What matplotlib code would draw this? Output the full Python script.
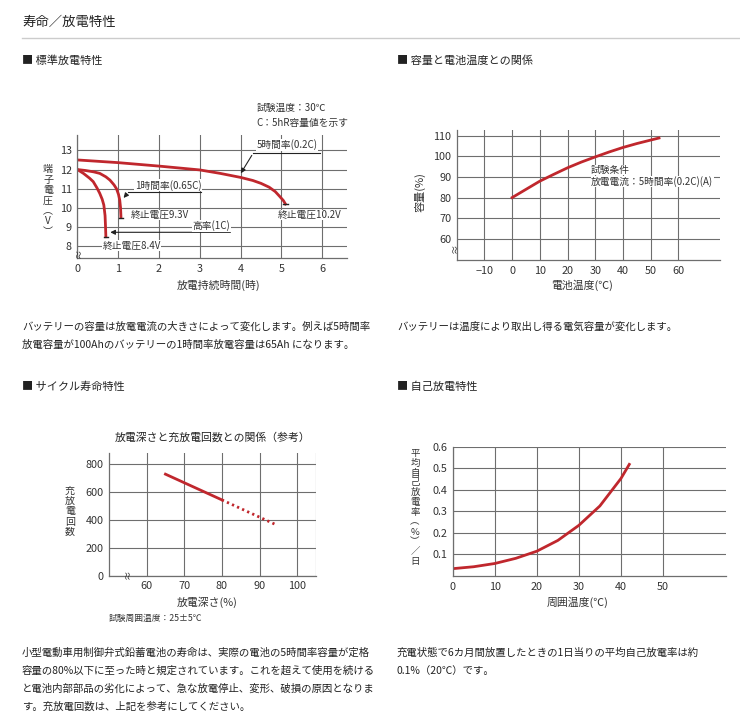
import matplotlib
matplotlib.use("Agg")
import matplotlib.pyplot as plt

plt.rcParams['font.family'] = ['Noto Sans CJK JP', 'DejaVu Sans']

# --- data ---
# standard discharge (hours, volts)
h5_t = [0, 0.5, 1, 1.5, 2, 2.5, 3, 3.5, 4, 4.3, 4.5, 4.7, 4.85, 4.95, 5.05, 5.1]
h5_v = [12.5, 12.43, 12.36, 12.27, 12.18, 12.08, 11.98, 11.8, 11.59, 11.43, 11.28, 11.08, 10.85, 10.62, 10.38, 10.2]
h1_t = [0, 0.2, 0.4, 0.55, 0.7, 0.8, 0.9, 0.96, 1.01, 1.04, 1.06, 1.07]
h1_v = [12.0, 11.95, 11.88, 11.8, 11.62, 11.45, 11.2, 11.0, 10.7, 10.4, 10.0, 9.5]
c1_t = [0, 0.15, 0.3, 0.39, 0.48, 0.55, 0.61, 0.65, 0.68, 0.69, 0.7]
c1_v = [12.0, 11.8, 11.55, 11.37, 11.05, 10.76, 10.45, 10.15, 9.6, 9.1, 8.5]

# capacity vs battery temperature
cap_temp = [0, 5, 10, 15, 20, 25, 30, 35, 40, 45, 50, 53]
cap_pct = [80, 84, 88, 91.3, 94.5, 97.3, 99.8, 102.2, 104.4, 106.3, 108, 109]

# cycle life vs depth of discharge
dod_solid = [65, 80]
cyc_solid = [730, 545]
dod_dot = [80, 94.5]
cyc_dot = [545, 365]

# self discharge vs ambient temperature
sd_temp = [0, 5, 10, 15, 20, 25, 30, 35, 40, 42]
sd_rate = [0.034, 0.043, 0.058, 0.082, 0.115, 0.165, 0.235, 0.325, 0.452, 0.518]

W, H = 740, 726
RED = '#c0272d'
GRID = '#6e6e6e'
TXT = '#333333'

fig = plt.figure(figsize=(W / 100, H / 100), dpi=100)


def px(x, y):
    return x / W, 1 - y / H


def make_ax(l, t, r, b):
    ax = fig.add_axes([l / W, 1 - b / H, (r - l) / W, (b - t) / H])
    for s in ['top', 'right']:
        ax.spines[s].set_visible(False)
    for s in ['left', 'bottom']:
        ax.spines[s].set_color(GRID)
        ax.spines[s].set_linewidth(0.9)
    ax.tick_params(length=0, labelsize=7.8, labelcolor=TXT, pad=4)
    return ax


def stacked(x, y0, chars, pitch, size=7):
    # vertical Japanese label, one glyph per row
    for i, c in enumerate(chars):
        fig.text(*px(x, y0 + i * pitch), c, ha='center', va='center',
                 fontsize=size, color=TXT)


# header
fig.text(*px(22, 22), "寿命／放電特性", fontsize=9.6, va='center', color='#222222')
fig.add_artist(plt.Line2D([22 / W, 1], [1 - 38 / H] * 2, color='#cccccc', lw=1))
fig.text(*px(22, 61), "■ 標準放電特性", fontsize=8, va='center', color='#222222')
fig.text(*px(397, 61), "■ 容量と電池温度との関係", fontsize=8, va='center', color='#222222')
fig.text(*px(22, 387), "■ サイクル寿命特性", fontsize=8, va='center', color='#222222')
fig.text(*px(397, 387), "■ 自己放電特性", fontsize=8, va='center', color='#222222')

body = dict(fontsize=7.5, va='center', color='#222222')
fig.text(*px(22, 327), "バッテリーの容量は放電電流の大きさによって変化します。例えば5時間率", **body)
fig.text(*px(22, 345), "放電容量が100Ahのバッテリーの1時間率放電容量は65Ah になります。", **body)
fig.text(*px(397, 327), "バッテリーは温度により取出し得る電気容量が変化します。", **body)
lines3 = ["小型電動車用制御弁式鉛蓄電池の寿命は、実際の電池の5時間率容量が定格",
          "容量の80%以下に至った時と規定されています。これを超えて使用を続ける",
          "と電池内部部品の劣化によって、急な放電停止、変形、破損の原因となりま",
          "す。充放電回数は、上記を参考にしてください。"]
for i, s in enumerate(lines3):
    fig.text(*px(22, 653 + i * 18), s, **body)
fig.text(*px(397, 653), "充電状態で6カ月間放置したときの1日当りの平均自己放電率は約", **body)
fig.text(*px(397, 671), "0.1%（20℃）です。", **body)

# --- chart 1: standard discharge ---
ax1 = make_ax(77.3, 135, 346.7, 258.3)
ax1.set_xlim(0, 6.6)
ax1.set_ylim(7.375, 13.8)
ax1.set_xticks(range(0, 7))
ax1.set_yticks(range(8, 14))
ax1.grid(True, color=GRID, lw=0.8)
ax1.set_axisbelow(True)
ax1.plot(h5_t, h5_v, color=RED, lw=2)
ax1.plot(h1_t, h1_v, color=RED, lw=2)
ax1.plot(c1_t, c1_v, color=RED, lw=2)
for t, v in [(h5_t[-1], h5_v[-1]), (h1_t[-1], h1_v[-1]), (c1_t[-1], c1_v[-1])]:
    ax1.plot([t - 0.05, t + 0.05], [v, v], color='#222222', lw=1)
lead = dict(color='#222222', lw=0.8)
ax1.plot([4.31, 5.94], [12.86, 12.86], **lead)
ax1.annotate("", xy=(3.97, 11.68), xytext=(4.31, 12.86),
             arrowprops=dict(arrowstyle='-|>', color='#222222', lw=0.8, mutation_scale=7))
ax1.plot([1.25, 3.04], [10.81, 10.81], **lead)
ax1.annotate("", xy=(1.09, 10.41), xytext=(1.25, 10.81),
             arrowprops=dict(arrowstyle='-|>', color='#222222', lw=0.8, mutation_scale=7))
ax1.annotate("", xy=(0.74, 8.73), xytext=(3.82, 8.73),
             arrowprops=dict(arrowstyle='-|>', color='#222222', lw=0.8, mutation_scale=7))
note = dict(fontsize=7, color=TXT, va='center',
            bbox=dict(facecolor='white', edgecolor='none', pad=0.3))
ax1.text(4.39, 13.28, "5時間率(0.2C)", **note)
ax1.text(1.41, 11.19, "1時間率(0.65C)", **note)
ax1.text(1.31, 9.63, "終止電圧9.3V", **note)
ax1.text(4.9, 9.63, "終止電圧10.2V", **note)
ax1.text(2.82, 9.06, "高率(1C)", **note)
ax1.text(0.62, 8.03, "終止電圧8.4V", **note)
fig.text(*px(256.7, 108), "試験温度：30℃", fontsize=7, color=TXT, va='center')
fig.text(*px(256.7, 123), "C：5hR容量値を示す", fontsize=7, color=TXT, va='center')
fig.text(*px(79, 253), "≈", fontsize=7, color=TXT, ha='center', va='center', rotation=90)
stacked(48, 169, ["端", "子", "電", "圧", "︵", "V", "︶"], 10.5, size=7.2)
fig.text(*px(219, 285), "放電持続時間(時)", fontsize=7.8, color=TXT, ha='center', va='center')

# --- chart 2: capacity vs temperature ---
ax2 = make_ax(456.7, 130, 720, 260)
ax2.set_xlim(-20, 75)
ax2.set_ylim(49.6, 112.9)
ax2.set_xticks(range(-10, 70, 10))
ax2.set_yticks(range(60, 120, 10))
ax2.grid(True, color=GRID, lw=0.8)
ax2.set_axisbelow(True)
ax2.plot(cap_temp, cap_pct, color=RED, lw=2)
ax2.text(28.5, 93.4, "試験条件", **note)
ax2.text(28.5, 87.8, "放電電流：5時間率(0.2C)(A)", **note)
fig.text(*px(455, 248), "≈", fontsize=7, color=TXT, ha='center', va='center', rotation=90)
fig.text(*px(420, 192), "容量(%)", fontsize=8, color=TXT, ha='center', va='center', rotation=90)
fig.text(*px(582, 285), "電池温度(℃)", fontsize=7.8, color=TXT, ha='center', va='center')

# --- chart 3: cycle life ---
ax3 = make_ax(109, 453.3, 316, 575.7)
ax3.set_xlim(50, 105)
ax3.set_ylim(0, 880)
ax3.set_xticks(range(60, 110, 10))
ax3.set_yticks(range(0, 1000, 200))
ax3.grid(True, color=GRID, lw=0.8)
ax3.axvline(105, color=GRID, lw=0.8)
ax3.set_axisbelow(True)
ax3.plot(dod_solid, cyc_solid, color=RED, lw=2)
ax3.plot(dod_dot, cyc_dot, color=RED, lw=2, linestyle=(0, (0.8, 1.2)))
fig.text(*px(213, 437), "放電深さと充放電回数との関係（参考）", fontsize=7.8, color='#222222',
         ha='center', va='center')
fig.text(*px(128.3, 574), "≈", fontsize=7, color=TXT, ha='center', va='center', rotation=90)
stacked(70, 490.5, "充放電回数", 10.4, size=7.2)
fig.text(*px(206.7, 602), "放電深さ(%)", fontsize=7.8, color=TXT, ha='center', va='center')
fig.text(*px(109, 618.5), "試験周囲温度：25±5℃", fontsize=6.3, color=TXT, va='center')

# --- chart 4: self discharge ---
ax4 = make_ax(452.7, 446.7, 726, 576)
ax4.set_xlim(0, 65)
ax4.set_ylim(0, 0.6)
ax4.set_xticks(range(0, 60, 10))
ax4.set_yticks([0.1, 0.2, 0.3, 0.4, 0.5, 0.6])
ax4.set_yticklabels(["0.1", "0.2", "0.3", "0.4", "0.5", "0.6"])
ax4.grid(True, color=GRID, lw=0.8)
ax4.set_axisbelow(True)
ax4.plot(sd_temp, sd_rate, color=RED, lw=2)
stacked(415, 453.3, ["平", "均", "自", "己", "放", "電", "率", "︵", "%", "︶", "／", "日"], 9.85, size=6.8)
fig.text(*px(578, 602), "周囲温度(℃)", fontsize=7.8, color=TXT, ha='center', va='center')

fig.savefig("out.png", dpi=100, facecolor='white')
